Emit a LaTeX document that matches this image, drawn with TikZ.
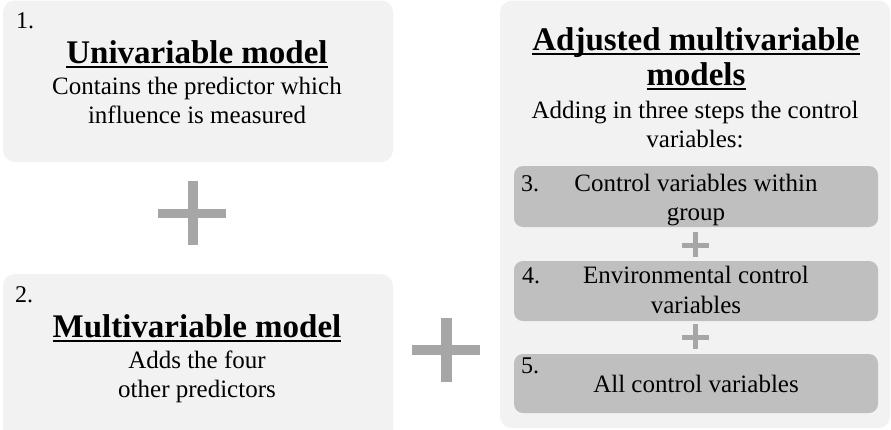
\documentclass[tikz,border=0pt]{standalone}
\usepackage{fontspec}
\setmainfont{Liberation Serif}
\usepackage{xcolor}
\usepackage{tikz}
\usetikzlibrary{positioning}
\definecolor{modeloFondo}{HTML}{f2f2f2}
\definecolor{pasoFondo}{HTML}{bfbfbf}
\definecolor{masGris}{HTML}{a6a6a6}
\newcommand{\titleul}[1]{\setbox0\hbox{#1}\rlap{\rule[-5pt]{\wd0}{1.8pt}}\box0}

\begin{document}
\begin{tikzpicture}[x=1pt, y=-1pt,
  caja/.style={fill=modeloFondo, rounded corners=12pt},
  paso/.style={fill=pasoFondo, rounded corners=9pt},
  titulo/.style={font=\fontsize{33}{36}\selectfont\bfseries, inner sep=0pt, anchor=base},
  texto/.style={font=\fontsize{25}{29}\selectfont, inner sep=0pt, anchor=base},
  num/.style={font=\fontsize{24}{28}\selectfont, inner sep=0pt, anchor=base west},
]
  % Lienzo
  \clip (0,0) rectangle (891,429);
  \fill[white] (0,0) rectangle (891,429);

  % Modelo 1
  \fill[caja] (3,0.5) rectangle (393,162);
  \node[num] (num1) at (16,28) {1.};
  \node[titulo] (tit1) at (197,63) {\titleul{Univariable model}};
  \node[texto] (txt1a) at (197,94) {Contains\ the predictor\ which};
  \node[texto] (txt1b) at (197,123) {influence\ is measured};

  % Plus entre 1 y 2
  \fill[masGris] (158,209) rectangle (226,218);
  \fill[masGris] (188,181) rectangle (198,245);

  % Modelo 2
  \fill[caja] (3,274) rectangle (393,450);
  \node[num] (num2) at (15,302) {2.};
  \node[titulo] (tit2) at (197,337) {\titleul{Multivariable model}};
  \node[texto] (txt2a) at (197,368) {Adds the four};
  \node[texto] (txt2b) at (197,397) {other predictors};

  % Plus hacia los modelos ajustados
  \fill[masGris] (412,345) rectangle (480,355);
  \fill[masGris] (441,318) rectangle (452,382);

  % Modelos ajustados
  \fill[caja] (500,0.5) rectangle (890,428);
  \node[titulo] (tit3a) at (696,50) {\titleul{Adjusted multivariable}};
  \node[titulo] (tit3b) at (696,85) {\titleul{models}};
  \node[texto] (txt3a) at (695,118) {Adding\ in three steps the control};
  \node[texto] (txt3b) at (695,147) {variables:};

  % Pasos 3, 4 y 5
  \fill[paso] (514,166) rectangle (878,227);
  \node[num] (num3) at (521,191) {3.};
  \node[texto] (paso3a) at (696,191) {Control\ variables\ within};
  \node[texto] (paso3b) at (696,220) {group};

  \fill[paso] (514,261) rectangle (878,321);
  \node[num] (num4) at (522,283) {4.};
  \node[texto] (paso4a) at (696,283) {Environmental\ control};
  \node[texto] (paso4b) at (696,313) {variables};

  \fill[paso] (514,354) rectangle (878,413);
  \node[num] (num5) at (521,373) {5.};
  \node[texto] (paso5) at (696,392) {All\ control\ variables};

  % Plus pequenos
  \foreach \y in {245,337} {
    \fill[masGris] (682,\y-2.5) rectangle (709,\y+2.5);
    \fill[masGris] (693,\y-13) rectangle (698,\y+12);
  }
\end{tikzpicture}
\end{document}
